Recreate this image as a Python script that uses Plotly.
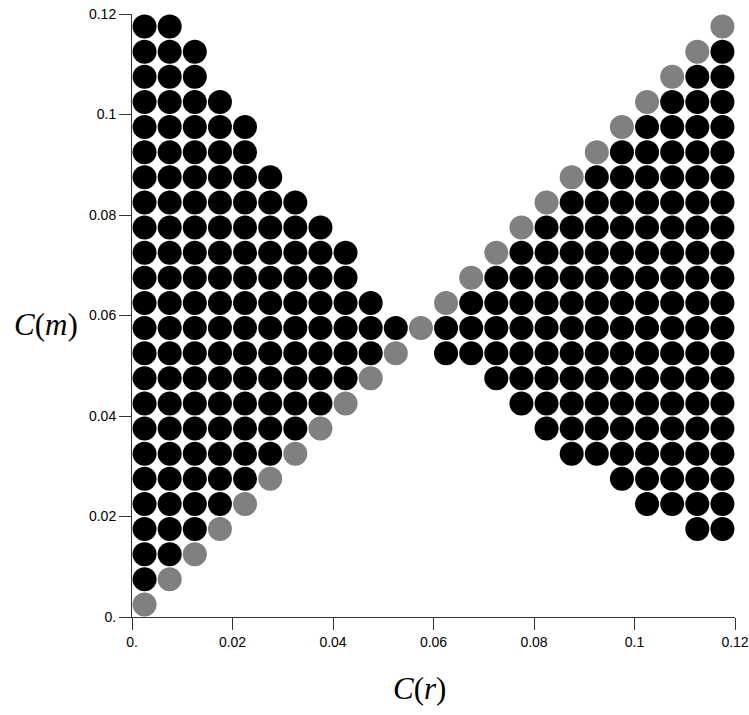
import plotly.graph_objects as go

# Column centres of the C(r) grid
cr_cols = [0.0025, 0.0075, 0.0125, 0.0175, 0.0225, 0.0275, 0.0325, 0.0375,
           0.0425, 0.0475, 0.0525, 0.0575, 0.0625, 0.0675, 0.0725, 0.0775,
           0.0825, 0.0875, 0.0925, 0.0975, 0.1025, 0.1075, 0.1125, 0.1175]
# Row centres of the C(m) grid
cm_rows = [0.0025, 0.0075, 0.0125, 0.0175, 0.0225, 0.0275, 0.0325, 0.0375,
           0.0425, 0.0475, 0.0525, 0.0575, 0.0625, 0.0675, 0.0725, 0.0775,
           0.0825, 0.0875, 0.0925, 0.0975, 0.1025, 0.1075, 0.1125, 0.1175]

# Black region per column: lowest and highest C(m) value (None = empty column)
black_low = [0.0075, 0.0125, 0.0175, 0.0225, 0.0275, 0.0325, 0.0375, 0.0425,
             0.0475, 0.0525, 0.0575, None, 0.0525, 0.0525, 0.0475, 0.0425,
             0.0375, 0.0325, 0.0325, 0.0275, 0.0225, 0.0225, 0.0175, 0.0175]
black_high = [0.1175, 0.1175, 0.1125, 0.1025, 0.0975, 0.0875, 0.0825, 0.0775,
              0.0725, 0.0625, 0.0575, None, 0.0575, 0.0625, 0.0675, 0.0725,
              0.0775, 0.0825, 0.0875, 0.0925, 0.0975, 0.1025, 0.1075, 0.1125]

# Grey points (diagonal C(m) = C(r))
gray_cr = [0.0025, 0.0075, 0.0125, 0.0175, 0.0225, 0.0275, 0.0325, 0.0375,
           0.0425, 0.0475, 0.0525, 0.0575, 0.0625, 0.0675, 0.0725, 0.0775,
           0.0825, 0.0875, 0.0925, 0.0975, 0.1025, 0.1075, 0.1125, 0.1175]
gray_cm = [0.0025, 0.0075, 0.0125, 0.0175, 0.0225, 0.0275, 0.0325, 0.0375,
           0.0425, 0.0475, 0.0525, 0.0575, 0.0625, 0.0675, 0.0725, 0.0775,
           0.0825, 0.0875, 0.0925, 0.0975, 0.1025, 0.1075, 0.1125, 0.1175]

tick_vals = [0, 0.02, 0.04, 0.06, 0.08, 0.1, 0.12]
tick_text = ["0.", "0.02", "0.04", "0.06", "0.08", "0.1", "0.12"]

black_x, black_y = [], []
for c, lo, hi in zip(cr_cols, black_low, black_high):
    if lo is None:
        continue
    for r in cm_rows:
        if lo - 1e-9 <= r <= hi + 1e-9:
            black_x.append(c)
            black_y.append(r)

fig = go.Figure()
fig.add_trace(go.Scatter(x=black_x, y=black_y, mode="markers",
                         marker=dict(size=24, color="#000000", line=dict(width=0)),
                         cliponaxis=False, showlegend=False, hoverinfo="skip"))
fig.add_trace(go.Scatter(x=gray_cr, y=gray_cm, mode="markers",
                         marker=dict(size=24, color="#808080", line=dict(width=0)),
                         cliponaxis=False, showlegend=False, hoverinfo="skip"))

L, R, T, B = 131.6, 14, 14.3, 98.3
W, H = 749, 715
pw, ph = W - L - R, H - T - B

axis_common = dict(
    range=[0, 0.12], showgrid=False, zeroline=False, showline=True,
    linecolor="#333333", linewidth=1, ticks="outside", ticklen=12,
    tickwidth=1, tickcolor="#333333", tickvals=tick_vals, ticktext=tick_text,
    tickfont=dict(family="Liberation Sans, Arial, sans-serif", size=14, color="#000000"),
    mirror=False, automargin=False,
)
fig.update_layout(
    width=W, height=H,
    margin=dict(l=L, r=R, t=T, b=B, pad=0, autoexpand=False),
    plot_bgcolor="white", paper_bgcolor="white",
    xaxis=dict(**axis_common),
    yaxis=dict(**axis_common),
    annotations=[
        dict(text="<i>C</i>(<i>r</i>)", xref="paper", yref="paper",
             x=(419 - L) / pw, y=(H - 688 - B) / ph, xanchor="center", yanchor="middle",
             showarrow=False,
             font=dict(family="Liberation Serif, Times New Roman, serif", size=31, color="#000000")),
        dict(text="<i>C</i>(<i>m</i>)", xref="paper", yref="paper",
             x=(45.5 - L) / pw, y=(H - 324 - B) / ph, xanchor="center", yanchor="middle",
             showarrow=False,
             font=dict(family="Liberation Serif, Times New Roman, serif", size=31, color="#000000")),
    ],
)

fig.write_html("out.html")
